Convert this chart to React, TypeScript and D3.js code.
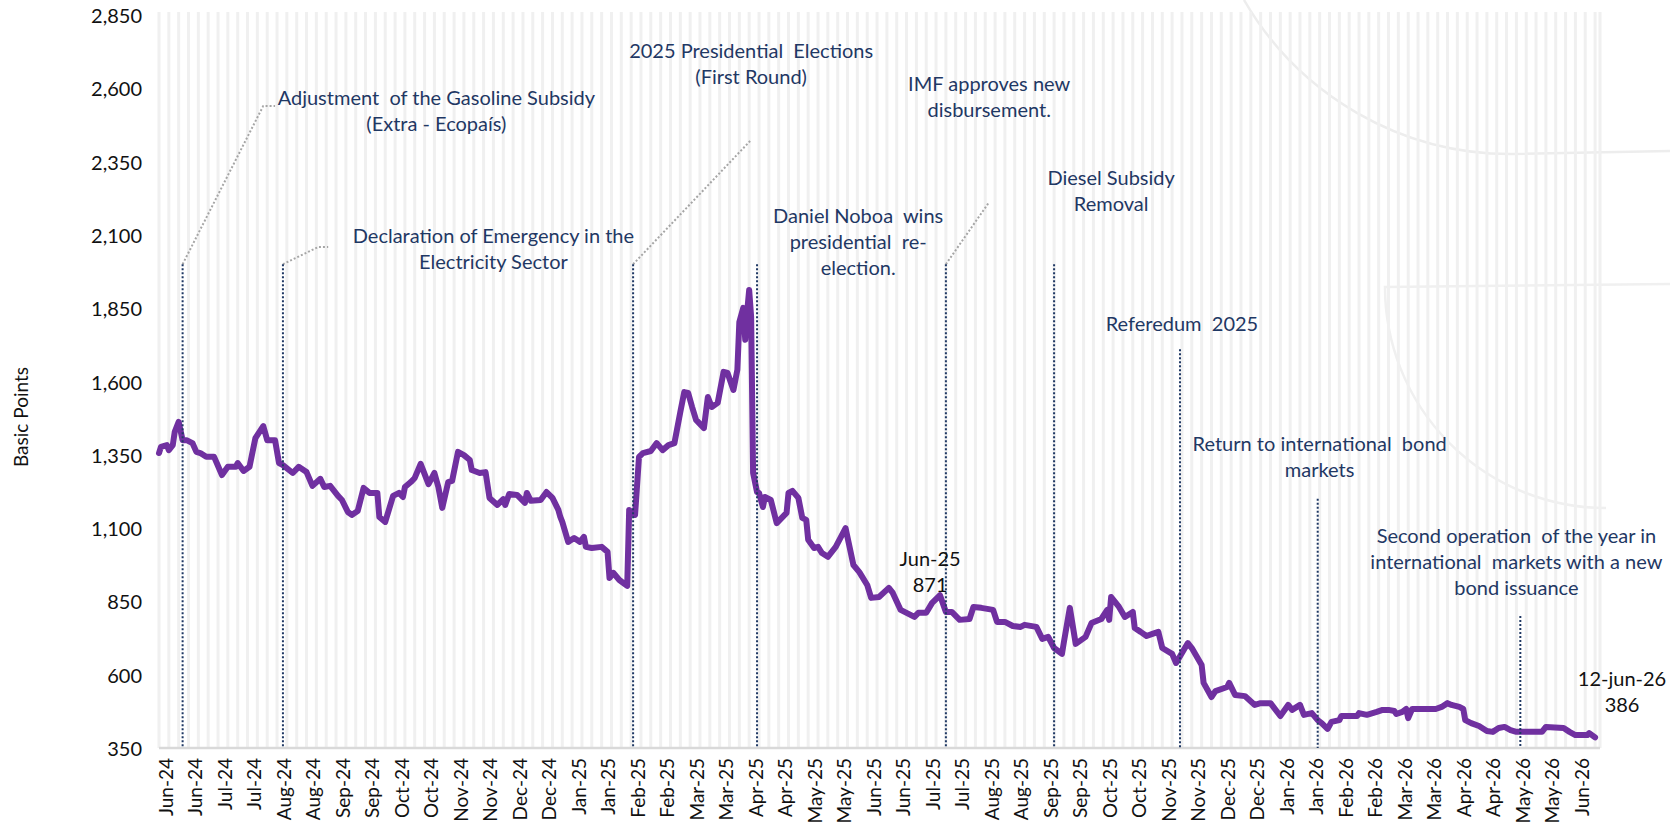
import React from "react";
import * as d3 from "d3";

// ---------------- DATA ----------------
const START = Date.UTC(2024, 5, 12); // 12-jun-24, first observation
const DOMAIN_END_DAYS = 732.5;

// days since START
const dayOffsets = [
  0, 1, 4, 5, 7, 8, 10, 12, 14, 17, 19, 21, 24, 28, 32, 35, 39, 40, 43, 46,
  49, 53, 55, 59, 61, 63, 68, 71, 75, 78, 82, 84, 87, 91, 93, 96, 98, 101, 104, 107,
  111, 112, 115, 119, 122, 124, 125, 128, 130, 133, 137, 140, 142, 144, 147, 149, 152, 155, 158, 159,
  163, 166, 168, 172, 175, 176, 178, 182, 186, 187, 189, 194, 197, 200, 203, 204,
  205, 208, 211, 214, 216, 217, 220, 225, 228, 229, 231, 234, 238, 239, 242, 244, 246, 250, 253, 256,
  259, 262, 265, 267, 269, 271, 273, 277, 279, 281, 284, 287, 289, 292, 294, 295, 297, 298, 299, 300,
  301, 302, 304, 305, 307, 308, 311, 314, 319, 320, 322, 325, 327, 329, 330, 333, 335, 337, 340, 344,
  349, 353, 356, 360, 362, 366, 371, 373, 377, 380, 384, 386, 390, 393, 397, 400, 403, 407,
  412, 414, 418, 424, 426, 430, 434, 438, 440, 446, 449, 452, 455, 459, 460, 463, 466, 471, 474, 479,
  482, 483, 484, 488, 491, 495, 496, 499, 502, 505, 508, 510, 515, 517, 523, 525, 530, 531, 535, 537,
  543, 544, 547, 552, 557, 560, 565, 570, 574, 576, 580, 582, 586, 589,
  591, 594, 596, 600, 601, 609, 610, 614, 619, 622, 625, 628, 629, 632, 634, 635, 637, 649, 652, 655,
  657, 661, 663, 664, 667, 671, 675, 678, 681, 684, 687, 690, 703, 705, 714, 717, 720, 726, 727, 730,
];

// EMBI spread, basis points
const spreadValues = [
  1356, 1377, 1383, 1366, 1383, 1428, 1462, 1400, 1400, 1390, 1360, 1356, 1343, 1343, 1281, 1309, 1309, 1322, 1295, 1309,
  1407, 1448, 1400, 1400, 1322, 1315, 1288, 1309, 1291, 1244, 1268, 1240, 1244, 1210, 1196, 1155, 1145, 1158, 1237, 1220,
  1220, 1138, 1121, 1210, 1220, 1206, 1240, 1257, 1271, 1319, 1250, 1288, 1240, 1169, 1257, 1261, 1360, 1349, 1332, 1298,
  1288, 1291, 1203, 1179, 1199, 1179, 1216, 1213, 1186, 1220, 1193, 1196, 1223, 1203, 1162, 1138,
  1121, 1053, 1066, 1053, 1070, 1036, 1032, 1036, 1019, 930, 947, 923, 903, 1162, 1145, 1343, 1356, 1363, 1390, 1366,
  1383, 1390, 1496, 1564, 1561, 1513, 1469, 1441, 1547, 1513, 1527, 1633, 1629, 1571, 1640, 1803, 1851, 1742, 1840, 1912,
  1820, 1288, 1223, 1220, 1172, 1206, 1196, 1117, 1152, 1220, 1227, 1203, 1135, 1128, 1060, 1032, 1036, 1015, 1002, 1036,
  1100, 974, 950, 906, 862, 865, 896, 879, 821, 811, 797, 811, 811, 845, 871, 814, 814, 787,
  790, 831, 828, 821, 780, 780, 766, 763, 770, 763, 722, 729, 691, 671, 712, 828, 705, 729, 776, 790,
  821, 787, 865, 831, 797, 814, 759, 746, 732, 739, 746, 691, 671, 640, 708, 691, 633, 572, 524, 544,
  558, 572, 531, 527, 497, 503, 503, 459, 497, 480, 497, 463, 469, 445,
  435, 415, 439, 445, 459, 459, 469, 463, 473, 480, 480, 476, 466, 473, 483, 452, 483, 483, 490, 503,
  497, 490, 483, 445, 435, 425, 408, 405, 418, 422, 411, 405, 405, 422, 418, 405, 394, 394, 401, 386,
];

const yTickValues = [350, 600, 850, 1100, 1350, 1600, 1850, 2100, 2350, 2600, 2850];
const LABEL_EVERY_DAYS = 15;
const GRID_EVERY_DAYS = 5;

// event markers (dotted vertical lines): day offset and top value
const eventDays = [12, 63, 241, 304, 400, 455, 519, 589, 692];
const eventTops = [2000, 2000, 2000, 2000, 2000, 2000, 1710, 1200, 800];

// leader lines [day, value]
const leaderLines: [number, number][][] = [
  [[12, 2000], [53, 2540], [59, 2540]],
  [[63, 2000], [81, 2059], [86, 2059]],
  [[241, 2000], [301, 2424]],
  [[400, 2000], [422, 2212]],
];

// annotation texts: anchor day (centre) and value (first line)
const annotationDays = [141, 170, 301, 422, 355.4, 484, 520, 590, 690];
const annotationValues = [2571, 2100, 2731, 2618, 2168, 2298, 1800, 1390, 1077];
const annotationTexts = [
  ["Adjustment  of the Gasoline Subsidy", "(Extra - Ecopaís)"],
  ["Declaration of Emergency in the", "Electricity Sector"],
  ["2025 Presidential  Elections", "(First Round)"],
  ["IMF approves new", "disbursement."],
  ["Daniel Noboa  wins", "presidential  re-", "election."],
  ["Diesel Subsidy", "Removal"],
  ["Referedum  2025"],
  ["Return to international  bond", "markets"],
  ["Second operation  of the year in", "international  markets with a new", "bond issuance"],
];

// value labels
const valueLabelDays = [392, 743.7];
const valueLabelValues = [998, 589];
const valueLabelTexts = [["Jun-25", "871"], ["12-jun-26", "386"]];

// ---------------- CHART ----------------
const W = 1670;
const H = 828;
const FONT = "Lato, 'Open Sans', sans-serif";
const NAVY = "#1F3864";
const DAY = 86400000;
const dayToDate = (d: number) => new Date(START + d * DAY);

export default function App() {
  const x = d3
    .scaleUtc()
    .domain([dayToDate(0), dayToDate(DOMAIN_END_DAYS)])
    .range([159, 1600]);
  const y = d3.scaleLinear().domain([350, 2850]).range([748, 15]);

  const series = dayOffsets.map((d, i) => ({ date: dayToDate(d), v: spreadValues[i] }));
  const line = d3
    .line<{ date: Date; v: number }>()
    .x((p) => x(p.date))
    .y((p) => y(p.v));

  const gridDays = d3.range(0, DOMAIN_END_DAYS, GRID_EVERY_DAYS);
  const labelDays = d3.range(0, 721, LABEL_EVERY_DAYS);
  const fmt = d3.utcFormat("%b-%y");

  const [x0, x1] = x.range();
  const yBase = y(350);
  const yTop = y(2850) - 3;

  const leader = d3
    .line<[number, number]>()
    .x((p) => x(dayToDate(p[0])))
    .y((p) => y(p[1]));

  return (
    <svg
      width={W}
      height={H}
      style={{ position: "absolute", left: 0, top: 0, background: "#fff" }}
      fontFamily={FONT}
    >
      <rect x={0} y={0} width={W} height={H} fill="#fff" />
      {/* decorative background arcs */}
      <path d="M1244,0 A308,308 0 0 0 1511,154 L1670,151" fill="none" stroke="#EDEDED" strokeWidth={2.5} />
      <path d="M1670,284 L1385,287 A221,221 0 0 0 1606,508" fill="none" stroke="#F0F0F0" strokeWidth={2.5} />

      {/* vertical stripes */}
      <g>
        {gridDays.map((d) => (
          <line
            key={d}
            x1={x(dayToDate(d))}
            x2={x(dayToDate(d))}
            y1={yTop}
            y2={yBase}
            stroke="#F0F0F0"
            strokeWidth={3}
          />
        ))}
        <line x1={x1} x2={x1} y1={yTop} y2={yBase} stroke="#F0F0F0" strokeWidth={3} />
      </g>

      {/* axis line */}
      <line x1={x0} x2={x1} y1={yBase} y2={yBase} stroke="#D9D9D9" strokeWidth={2.5} />

      {/* y tick labels */}
      <g fontSize={20} fill="#111">
        {yTickValues.map((v) => (
          <text key={v} x={142} y={y(v)} textAnchor="end" dominantBaseline="central">
            {d3.format(",")(v)}
          </text>
        ))}
      </g>
      <text
        transform={`translate(20,417) rotate(-90)`}
        textAnchor="middle"
        dominantBaseline="central"
        fontSize={19}
        fill="#111"
      >
        Basic Points
      </text>

      {/* x tick labels */}
      <g fontSize={19} fill="#111">
        {labelDays.map((d) => (
          <text
            key={d}
            transform={`translate(${x(dayToDate(d)) + 6},758) rotate(-90)`}
            textAnchor="end"
            dominantBaseline="central"
          >
            {fmt(dayToDate(d))}
          </text>
        ))}
      </g>

      {/* series */}
      <path
        d={line(series) || ""}
        fill="none"
        stroke="#7030A0"
        strokeWidth={6}
        strokeLinejoin="round"
        strokeLinecap="round"
      />

      {/* leader lines */}
      {leaderLines.map((pts, i) => (
        <path
          key={i}
          d={leader(pts) || ""}
          fill="none"
          stroke="#A6A6A6"
          strokeWidth={2}
          strokeDasharray="2,2"
        />
      ))}

      {/* event lines */}
      {eventDays.map((d, i) => (
        <line
          key={d}
          x1={x(dayToDate(d))}
          x2={x(dayToDate(d))}
          y1={y(eventTops[i])}
          y2={yBase}
          stroke={NAVY}
          strokeWidth={2}
          strokeDasharray="2,2"
        />
      ))}

      {/* annotations */}
      <g fontSize={20} fill={NAVY}>
        {annotationTexts.map((lines, i) => (
          <text key={i} textAnchor="middle" dominantBaseline="central">
            {lines.map((t, j) => (
              <tspan key={j} x={x(dayToDate(annotationDays[i]))} y={y(annotationValues[i]) + j * 26} style={{ whiteSpace: "pre" }}>
                {t}
              </tspan>
            ))}
          </text>
        ))}
      </g>

      {/* value labels */}
      <g fontSize={20} fill="#111">
        {valueLabelTexts.map((lines, i) => (
          <text key={i} textAnchor="middle" dominantBaseline="central">
            {lines.map((t, j) => (
              <tspan key={j} x={x(dayToDate(valueLabelDays[i]))} y={y(valueLabelValues[i]) + j * 26}>
                {t}
              </tspan>
            ))}
          </text>
        ))}
      </g>
    </svg>
  );
}
